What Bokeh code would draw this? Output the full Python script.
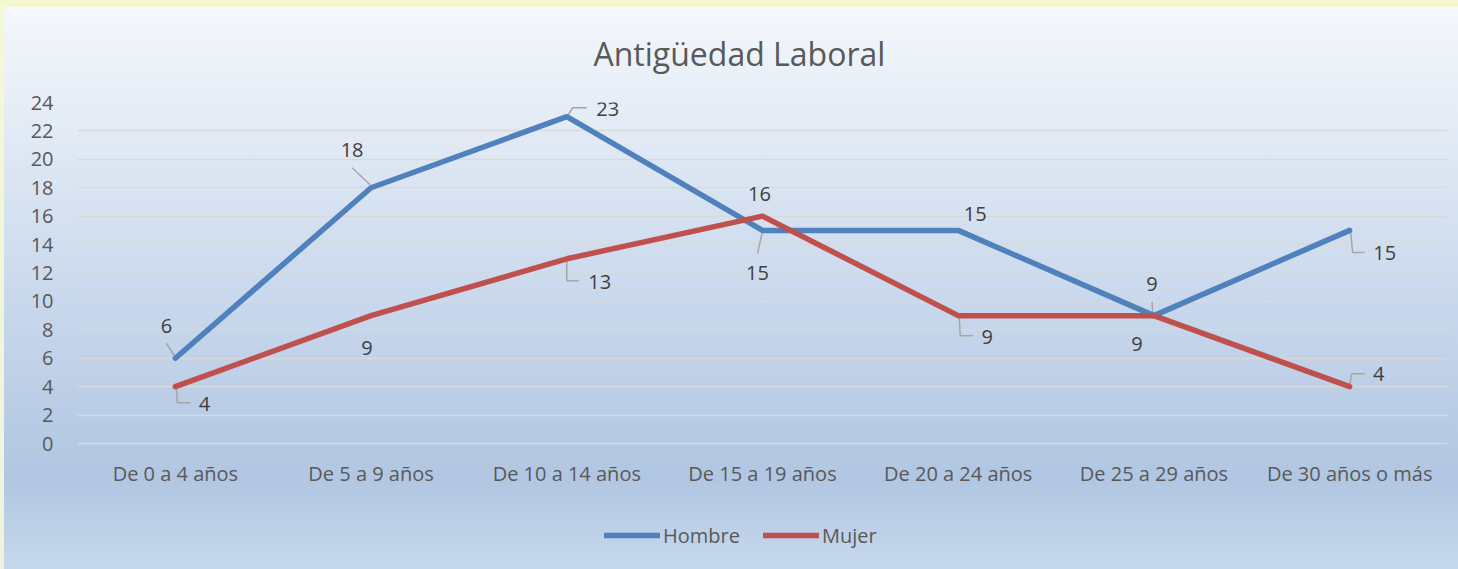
import numpy as np
from bokeh.plotting import figure
from bokeh.models import (Range1d, FixedTicker, Legend, LegendItem, ColumnDataSource, Title)
from bokeh.core.properties import value
from bokeh.embed import file_html
from bokeh.resources import INLINE

# ---- data ----
categories = ["De 0 a 4 años", "De 5 a 9 años", "De 10 a 14 años", "De 15 a 19 años",
              "De 20 a 24 años", "De 25 a 29 años", "De 30 años o más"]
hombre = [6, 18, 23, 15, 15, 9, 15]
mujer = [4, 9, 13, 16, 9, 9, 4]
y_ticks = list(range(0, 25, 2))
title_text = "Antigüedad Laboral"

# ---- styles / label placement (screen px relative to each point) ----
FONT = "Open Sans"
BLUE = "#4f81bd"
RED = "#c0504d"
h_lab_off = [(-9, -32), (-19, -38), (41, -8), (-5, 43), (17, -16), (-2, -32), (35, 23)]
m_lab_off = [(29, 17), (-4, 32), (33, 23), (-3, -22), (29, 21), (-17, 28), (29, -13)]
h_leaders = [[(0, -1), (-9, -15)], [(-1, -3), (-19, -20)], [(1, -1), (6, -9), (20, -9)],
             [(0, 1), (-5, 23)], None, [(-1, -2), (-2, -14)], [(1, 1), (3, 22), (15, 22)]]
m_leaders = [[(1, 1), (2, 16), (15, 16)], None, [(0, 0), (0, 22), (12, 22)], None,
             [(1, 1), (2, 20), (15, 20)], None, [(0, -1), (2, -13), (15, -13)]]

FW = 1370          # plot width in px
PH = 341           # px spanned by 0..24
BOTTOM = 126       # px below value 0 (category labels + legend area)
x = list(range(len(categories)))
y_lo = -BOTTOM * 24.0 / PH

p = figure(frame_width=FW, frame_height=PH + BOTTOM,
           x_range=Range1d(-0.5, len(categories) - 0.5), y_range=Range1d(y_lo, 24),
           x_axis_location=None, output_backend="svg", toolbar_location=None,
           min_border_left=77, min_border_right=11, min_border_top=102, min_border_bottom=0)

p.background_fill_color = None
p.border_fill_color = None
p.outline_line_color = None
p.styles = {"background": (
    "linear-gradient(#f2f7cf, #f2f7cf) 0 0 / 100% 7px no-repeat, "
    "linear-gradient(#f5f9d2, #eef3de) 0 0 / 4px 100% no-repeat, "
    "linear-gradient(to bottom, #f5f8fc 0%, #e7eef7 16%, #c9d8ec 52%, #b1c6e2 84%, #c6d8eb 100%) "
    "4px 7px / calc(100% - 4px) calc(100% - 7px) no-repeat")}

t = Title(text=title_text, align="left", text_font=FONT, text_font_size="32px",
          text_color="#595959", text_font_style="normal", offset=516, standoff=56)
p.add_layout(t, "above")

# y axis
p.yaxis.ticker = FixedTicker(ticks=y_ticks)
ax = p.yaxis[0]
ax.axis_line_color = None
ax.major_tick_line_color = None
ax.minor_tick_line_color = None
ax.major_label_text_font = FONT
ax.major_label_text_font_size = "20px"
ax.major_label_text_color = "#595959"
ax.major_label_standoff = 18

p.xgrid.visible = False
p.ygrid.grid_line_color = "#d9d9d9"
p.ygrid.grid_line_width = 1.5

# category labels under the value 0 line
cat_src = ColumnDataSource(dict(x=x, y=[0] * len(categories), t=categories))
p.text(x="x", y="y", text="t", source=cat_src, y_offset=30,
       text_font=value(FONT), text_font_size="20px", text_color="#595959",
       text_align="center", text_baseline="middle")

# leader lines
px_x = FW / len(categories)
px_y = PH / 24.0
lx, ly = [], []
for vals, leaders in ((hombre, h_leaders), (mujer, m_leaders)):
    for i, (v, ld) in enumerate(zip(vals, leaders)):
        if ld is None:
            continue
        lx.append([x[i] + dx / px_x for dx, dy in ld])
        ly.append([v - dy / px_y for dx, dy in ld])
p.multi_line(lx, ly, line_color="#a6a6a6", line_width=1.5)

r_h = p.line(x, hombre, line_color=BLUE, line_width=5.5, line_join="round", line_cap="round")
r_m = p.line(x, mujer, line_color=RED, line_width=5.5, line_join="round", line_cap="round")

# data labels
for vals, offs in ((hombre, h_lab_off), (mujer, m_lab_off)):
    src = ColumnDataSource(dict(x=x, y=vals, t=[str(v) for v in vals],
                                xo=[o[0] for o in offs], yo=[o[1] for o in offs]))
    p.text(x="x", y="y", text="t", x_offset="xo", y_offset="yo", source=src,
           text_font=value(FONT), text_font_size="20px", text_color="#404040",
           text_align="center", text_baseline="middle")

legend = Legend(items=[LegendItem(label="Hombre", renderers=[r_h]),
                       LegendItem(label="Mujer", renderers=[r_m])],
                orientation="horizontal", location=(527, 19),
                glyph_width=56, glyph_height=30, label_height=30, label_standoff=3, spacing=23,
                padding=0, margin=0,
                background_fill_alpha=0, border_line_color=None,
                label_text_font=FONT, label_text_font_size="20px", label_text_color="#595959")
p.add_layout(legend, "center")

open("out.html", "w").write(file_html(p, INLINE))
